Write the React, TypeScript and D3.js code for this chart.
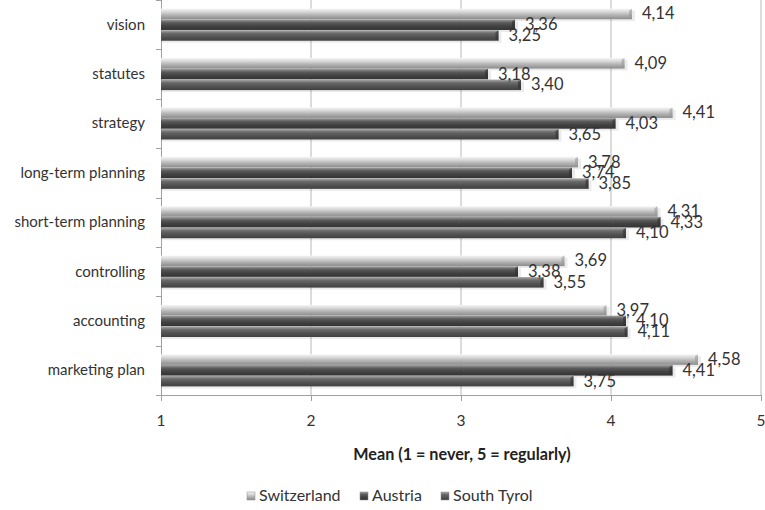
import * as d3 from "d3";
import { useEffect, useRef } from "react";

const categories = [
  "vision",
  "statutes",
  "strategy",
  "long-term planning",
  "short-term planning",
  "controlling",
  "accounting",
  "marketing plan",
];
const seriesNames = ["Switzerland", "Austria", "South Tyrol"];
const switzerland = [4.14, 4.09, 4.41, 3.78, 4.31, 3.69, 3.97, 4.58];
const austria = [3.36, 3.18, 4.03, 3.74, 4.33, 3.38, 4.1, 4.41];
const southTyrol = [3.25, 3.4, 3.65, 3.85, 4.1, 3.55, 4.11, 3.75];
const xTicks = [1, 2, 3, 4, 5];

// gradient stops per series (top -> bottom)
const gradients = [
  ["#f6f6f6", "#d8d8d8", "#b4b4b4", "#8c8c8c"],
  ["#a0a0a0", "#5c5c5c", "#444444", "#333333"],
  ["#acacac", "#6a6a6a", "#545454", "#404040"],
];

function App() {
  const ref = useRef<SVGSVGElement>(null);

  useEffect(() => {
    const width = 765,
      height = 510;
    const left = 161,
      right = 761,
      top = 0,
      bottom = 395;
    const font = "Lato, 'Open Sans', sans-serif";

    const svg = d3.select(ref.current);
    svg.selectAll("*").remove();
    svg.attr("width", width).attr("height", height);

    const defs = svg.append("defs");
    gradients.forEach((stops, i) => {
      const g = defs
        .append("linearGradient")
        .attr("id", "grad" + i)
        .attr("x1", 0)
        .attr("y1", 0)
        .attr("x2", 0)
        .attr("y2", 1);
      const offs = [0, 0.3, 0.6, 1];
      stops.forEach((c, j) => {
        g.append("stop").attr("offset", offs[j]).attr("stop-color", c);
      });
    });

    const x = d3.scaleLinear().domain([1, 5]).range([left, right]);
    const y = d3
      .scaleBand<string>()
      .domain(categories)
      .range([top, bottom])
      .paddingInner(0.35)
      .paddingOuter(0.175);
    const ySub = d3
      .scaleBand<string>()
      .domain(seriesNames)
      .range([0, y.bandwidth()])
      .paddingInner(0.02);

    // grid lines
    svg
      .append("g")
      .selectAll("line")
      .data(xTicks.slice(1))
      .join("line")
      .attr("x1", (d) => x(d))
      .attr("x2", (d) => x(d))
      .attr("y1", top)
      .attr("y2", bottom)
      .attr("stroke", "#b8b8b8")
      .attr("stroke-width", 1);

    // axes lines
    svg
      .append("line")
      .attr("x1", left + 0.5)
      .attr("x2", left + 0.5)
      .attr("y1", top)
      .attr("y2", bottom)
      .attr("stroke", "#a0a0a0");
    svg
      .append("line")
      .attr("x1", left)
      .attr("x2", right)
      .attr("y1", bottom + 0.5)
      .attr("y2", bottom + 0.5)
      .attr("stroke", "#a0a0a0");

    // category tick marks on boundaries
    const step = y.step();
    const boundaries = d3.range(categories.length + 1).map((i) => top + i * step);
    svg
      .append("g")
      .selectAll("line")
      .data(boundaries)
      .join("line")
      .attr("x1", left - 5)
      .attr("x2", left)
      .attr("y1", (d) => Math.round(d) + 0.5)
      .attr("y2", (d) => Math.round(d) + 0.5)
      .attr("stroke", "#a0a0a0");

    // x tick marks
    svg
      .append("g")
      .selectAll("line")
      .data(xTicks)
      .join("line")
      .attr("x1", (d) => x(d) + 0.5)
      .attr("x2", (d) => x(d) + 0.5)
      .attr("y1", bottom)
      .attr("y2", bottom + 6)
      .attr("stroke", "#a0a0a0");

    // x tick labels
    svg
      .append("g")
      .selectAll("text")
      .data(xTicks)
      .join("text")
      .attr("x", (d) => x(d))
      .attr("y", 426)
      .attr("text-anchor", "middle")
      .attr("font-family", font)
      .attr("font-size", 15.5)
      .attr("fill", "#333")
      .text((d) => d);

    // category labels
    svg
      .append("g")
      .selectAll("text")
      .data(categories)
      .join("text")
      .attr("x", 145)
      .attr("y", (d) => (y(d) as number) + y.bandwidth() / 2 + 5)
      .attr("text-anchor", "end")
      .attr("font-family", font)
      .attr("font-size", 15)
      .attr("fill", "#333")
      .text((d) => d);

    const seriesValues = [switzerland, austria, southTyrol];
    const rows = categories.flatMap((c, ci) =>
      seriesNames.map((s, si) => ({ c, s, si, v: seriesValues[si][ci] }))
    );

    const bars = svg.append("g");
    rows.forEach((r) => {
      const by = (y(r.c) as number) + (ySub(r.s) as number);
      const bh = ySub.bandwidth();
      const bw = x(r.v) - left;
      // soft shadow
      bars
        .append("rect")
        .attr("x", left + 1)
        .attr("y", by + 2)
        .attr("width", bw + 2)
        .attr("height", bh)
        .attr("fill", "#000")
        .attr("opacity", 0.08);
      bars
        .append("rect")
        .attr("x", left)
        .attr("y", by)
        .attr("width", bw)
        .attr("height", bh)
        .attr("fill", `url(#grad${r.si})`);
      // bevelled end cap
      bars
        .append("path")
        .attr(
          "d",
          `M${x(r.v) - 3},${by + 2} L${x(r.v)},${by} L${x(r.v)},${by + bh} L${x(r.v) - 3},${by + bh - 2} Z`
        )
        .attr("fill", r.si === 0 ? "#9a9a9a" : "#2e2e2e")
        .attr("opacity", 0.6);
    });

    // value labels
    svg
      .append("g")
      .selectAll("text")
      .data(rows)
      .join("text")
      .attr("x", (d) => x(d.v) + 10)
      .attr("y", (d) => (y(d.c) as number) + (ySub(d.s) as number) + ySub.bandwidth() / 2 + 5.5)
      .attr("font-family", font)
      .attr("font-size", 16.5)
      .attr("fill", "#333")
      .text((d) => d.v.toFixed(2).replace(".", ","));

    // axis title
    svg
      .append("text")
      .attr("x", 462)
      .attr("y", 460)
      .attr("text-anchor", "middle")
      .attr("font-family", font)
      .attr("font-size", 16.2)
      .attr("font-weight", "bold")
      .attr("fill", "#222")
      .text("Mean (1 = never, 5 = regularly)");

    // legend
    const legendX = [247, 360, 441];
    const legend = svg
      .append("g")
      .selectAll("g")
      .data(seriesNames)
      .join("g")
      .attr("transform", (d, i) => `translate(${legendX[i]}, 497)`);
    legend
      .append("rect")
      .attr("x", 0)
      .attr("y", -5)
      .attr("width", 8)
      .attr("height", 8)
      .attr("fill", (d, i) => `url(#grad${i})`)
      .attr("stroke", "#888")
      .attr("stroke-width", 0.5);
    legend
      .append("text")
      .attr("x", 12)
      .attr("y", 4)
      .attr("font-family", font)
      .attr("font-size", 16)
      .attr("fill", "#333")
      .text((d) => d);
  }, []);

  return (
    <div style={{ position: "absolute", left: 0, top: 0 }}>
      <svg ref={ref} style={{ display: "block" }}></svg>
    </div>
  );
}

export default App;
